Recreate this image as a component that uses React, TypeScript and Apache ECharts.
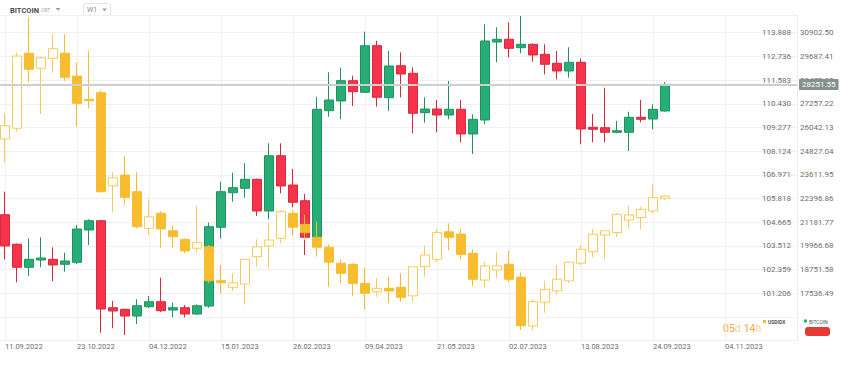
import React, { useEffect, useRef } from 'react';
import * as echarts from 'echarts';

// Date labels on the time axis (one every 6 weeks)
const xTickLabels = [
  '11.09.2022', '23.10.2022', '04.12.2022', '15.01.2023', '26.02.2023', '09.04.2023',
  '21.05.2023', '02.07.2023', '13.08.2023', '24.09.2023', '04.11.2023',
];

// Right-hand axis tick labels
const usdTickLabels = [
  '101.206', '102.359', '103.512', '104.665', '105.818', '106.971',
  '108.124', '109.277', '110.430', '111.583', '112.736', '113.888',
];
const btcTickLabels = [
  '17536.49', '18751.58', '19966.68', '21181.77', '22396.86', '23611.95',
  '24827.04', '26042.13', '27257.22', '28472.32', '29687.41', '30902.50',
];

// Weekly candles: [open, close, low, high]
const usdidx: number[][] = [
  [108.72, 109.36, 107.61, 109.97], [109.24, 112.75, 109.07, 112.91], [112.89, 112.11, 111.47, 114.64],
  [112.16, 112.67, 109.93, 112.72], [112.64, 113.11, 111.94, 113.81], [112.89, 111.72, 111.55, 113.81],
  [111.78, 110.45, 109.31, 112.43], [110.65, 110.58, 110.21, 113.0], [110.97, 106.15, 106.11, 111.1],
  [106.44, 106.83, 105.15, 107.1], [106.96, 105.88, 105.5, 107.89], [106.15, 104.45, 104.37, 107.1],
  [104.37, 104.93, 104.04, 105.78], [105.1, 104.34, 103.4, 105.21], [104.25, 103.96, 103.4, 104.53],
  [103.83, 103.27, 103.15, 103.88], [103.4, 103.67, 103.2, 105.42], [103.47, 101.82, 101.71, 103.56],
  [101.82, 101.72, 101.21, 102.58], [101.48, 101.72, 101.32, 102.18], [101.66, 102.86, 100.67, 102.86],
  [102.99, 103.47, 102.5, 103.83], [103.51, 103.8, 102.42, 104.61], [103.88, 105.18, 103.64, 105.26],
  [105.1, 104.42, 104.01, 105.26], [104.56, 104.16, 103.8, 105.02], [103.93, 103.45, 102.99, 104.69],
  [103.45, 102.72, 101.53, 103.59], [102.67, 102.18, 101.69, 102.86], [102.62, 101.69, 101.08, 102.67],
  [101.69, 101.21, 100.44, 102.45], [101.28, 101.45, 101.04, 101.94], [101.45, 101.32, 100.72, 102.01],
  [101.5, 101.01, 100.8, 102.18], [101.08, 102.5, 100.8, 102.5], [102.5, 103.07, 102.01, 103.51],
  [102.86, 104.16, 102.73, 104.32], [104.2, 103.93, 103.31, 104.61], [104.09, 103.1, 102.86, 104.34],
  [103.15, 101.89, 101.56, 103.35], [101.85, 102.54, 101.48, 102.74], [102.34, 102.55, 101.94, 103.2],
  [102.62, 101.89, 101.76, 103.28], [101.99, 99.63, 99.42, 102.21], [99.62, 100.8, 99.42, 100.91],
  [100.77, 101.4, 100.26, 101.82], [101.32, 101.89, 101.17, 102.58], [101.81, 102.72, 101.71, 102.74],
  [102.67, 103.35, 102.58, 103.56], [103.23, 104.08, 102.96, 104.34], [104.04, 104.25, 102.86, 104.29],
  [104.16, 105.05, 103.96, 105.1], [104.77, 105.02, 104.37, 105.42], [104.89, 105.29, 104.32, 105.42],
  [105.21, 105.86, 105.11, 106.53], [105.83, 105.94, 105.75, 105.99],
];

const bitcoin: number[][] = [
  [21568, 19962, 19280, 22748], [20050, 18870, 18101, 20100], [18870, 19280, 18424, 20358],
  [19245, 19347, 18870, 20409], [19280, 18988, 18167, 19896], [19024, 19193, 18644, 19619],
  [19126, 20834, 19039, 21040], [20783, 21260, 20014, 21332], [21260, 16731, 15516, 21300],
  [16798, 16629, 15741, 17142], [16716, 16372, 15398, 16731], [16372, 16900, 15962, 17229],
  [16849, 17106, 16783, 17398], [17106, 16644, 16577, 18337], [16680, 16798, 16306, 17054],
  [16798, 16475, 16306, 16936], [16475, 16900, 16440, 16972], [16885, 20952, 16800, 21158],
  [20922, 22748, 20358, 23261], [22696, 22953, 22235, 23722], [22922, 23384, 22440, 24204],
  [23384, 21758, 21501, 23420], [21758, 24594, 21332, 25230], [24594, 23040, 22665, 25230],
  [23091, 22204, 21947, 23912], [22286, 20409, 19501, 22630], [20409, 26974, 20300, 27620],
  [26902, 27451, 26594, 28872], [27400, 28441, 26461, 29108], [28441, 27877, 27143, 28697],
  [27846, 30236, 27810, 30954], [30236, 27589, 27107, 30492], [27569, 29195, 26902, 29964],
  [29210, 28784, 27589, 29897], [28820, 26769, 25743, 29128], [26799, 26989, 26287, 27589],
  [26989, 26682, 25794, 27451], [26682, 26974, 26461, 28425], [26974, 25707, 25281, 27451],
  [25707, 26461, 24681, 26717], [26425, 30477, 26205, 31334], [30426, 30564, 29385, 31180],
  [30564, 30103, 29641, 31436], [30133, 30308, 29846, 31759], [30308, 29759, 29415, 30359],
  [29795, 29282, 28769, 30308], [29333, 28938, 28513, 29964], [28938, 29385, 28595, 30154],
  [29385, 25964, 25179, 29590], [26051, 25948, 25281, 26733], [26030, 25794, 25281, 28082],
  [25794, 25876, 25750, 26374], [25794, 26564, 24835, 26851], [26564, 26461, 26307, 27451],
  [26476, 26974, 25948, 27230], [26887, 28251.55, 26850, 28359],
];

const lastPrice = bitcoin[bitcoin.length - 1][1];

// weekly categories (one leading empty week, trailing empty weeks to the axis)
const totalWeeks = 68;
const weekDates: string[] = Array.from({ length: totalWeeks }, (_, i) => {
  const d = new Date(Date.UTC(2022, 8, 4 + 7 * i));
  const dd = String(d.getUTCDate()).padStart(2, '0');
  const mm = String(d.getUTCMonth() + 1).padStart(2, '0');
  return `${dd}.${mm}.${d.getUTCFullYear()}`;
});

const usdLo = parseFloat(usdTickLabels[0]);
const usdHi = parseFloat(usdTickLabels[usdTickLabels.length - 1]);
const usdStep = (usdHi - usdLo) / (usdTickLabels.length - 1);
const btcLo = parseFloat(btcTickLabels[0]);
const btcHi = parseFloat(btcTickLabels[btcTickLabels.length - 1]);
const btcStep = (btcHi - btcLo) / (btcTickLabels.length - 1);

const usdMin = usdLo - 2 * usdStep;
const usdMax = usdHi + 0.747 * usdStep;
const btcMin = btcLo - 2 * btcStep;
const btcMax = btcHi + 0.747 * btcStep;

function nearestLabel(labels: string[], v: number, step: number): string {
  for (const l of labels) {
    if (Math.abs(parseFloat(l) - v) < step * 0.3) return l;
  }
  return '';
}

const FONT = 'Roboto, "Noto Sans", sans-serif';

export default function App() {
  const ref = useRef<HTMLDivElement>(null);
  useEffect(() => {
    document.body.style.margin = '0';
    const chart = echarts.init(ref.current as HTMLDivElement, null, { renderer: 'svg' });
    const option: any = {
      animation: false,
      textStyle: { fontFamily: FONT },
      grid: { left: -7, right: 50, top: 15, bottom: 27.3, containLabel: false, outerBoundsMode: 'none' },
      xAxis: {
        type: 'category',
        data: weekDates,
        boundaryGap: false,
        axisLine: { show: false },
        axisTick: { show: false },
        axisLabel: {
          interval: (i: number) => i >= 1 && (i - 1) % 6 === 0,
          formatter: (_v: string, i: number) => xTickLabels[(i - 1) / 6] ?? '',
          align: 'left',
          color: '#6d6d6d',
          fontSize: 7.5,
          margin: 2,
          fontFamily: FONT,
        },
        splitLine: {
          show: true,
          interval: (i: number) => i >= 1 && (i - 1) % 6 === 0,
          lineStyle: { color: '#f0f0f0', width: 1 },
        },
      },
      yAxis: [
        {
          type: 'value',
          position: 'right',
          offset: -37,
          min: usdMin,
          max: usdMax,
          interval: usdStep,
          axisLine: { show: false },
          axisTick: { show: false },
          axisLabel: {
            margin: 2,
            fontSize: 8,
            color: '#6d6d6d',
            fontFamily: FONT,
            formatter: (v: number) => nearestLabel(usdTickLabels, v, usdStep),
          },
          splitLine: { show: true, lineStyle: { color: '#f0f0f0', width: 1 } },
        },
        {
          type: 'value',
          position: 'right',
          offset: 0,
          min: btcMin,
          max: btcMax,
          interval: btcStep,
          axisLine: { show: true, lineStyle: { color: '#ececec', width: 1 } },
          axisTick: { show: false },
          axisLabel: {
            margin: 3,
            fontSize: 8,
            color: '#6d6d6d',
            fontFamily: FONT,
            formatter: (v: number) => nearestLabel(btcTickLabels, v, btcStep),
          },
          splitLine: { show: false },
        },
      ],
      series: [
        {
          name: 'BITCOIN',
          type: 'candlestick',
          yAxisIndex: 1,
          barWidth: 9,
          data: bitcoin.map((d, i) => [i + 1, d[0], d[1], d[2], d[3]]),
          encode: { x: 0, y: [1, 2, 3, 4] },
          itemStyle: {
            color: '#27ae76',
            color0: '#f7334b',
            borderColor: '#1f935f',
            borderColor0: '#d42a3f',
            borderWidth: 1,
          },
          markLine: {
            silent: true,
            symbol: ['none', 'none'],
            lineStyle: { color: '#c9d0cf', width: 2, type: 'solid' },
            label: {
              show: true,
              position: 'end',
              distance: 2,
              formatter: () => lastPrice.toFixed(2),
              backgroundColor: '#86908f',
              color: '#ffffff',
              fontSize: 8,
              padding: [2, 3, 1, 3],
              borderRadius: 1,
              fontFamily: FONT,
            },
            data: [{ yAxis: lastPrice }],
          },
        },
        {
          name: 'USDIDX',
          type: 'candlestick',
          yAxisIndex: 0,
          barWidth: 9,
          data: usdidx.map((d, i) => [i + 1, d[0], d[1], d[2], d[3]]),
          encode: { x: 0, y: [1, 2, 3, 4] },
          itemStyle: {
            color: '#ffffff',
            color0: '#f7bd2e',
            borderColor: '#f8cb58',
            borderColor0: '#f7bd2e',
            borderWidth: 1,
          },
        },
      ],
      graphic: [
        { type: 'text', x: 10, y: 6, style: { text: 'BITCOIN', fontSize: 7.5, fontWeight: 'bold', fill: '#4a4a4a', fontFamily: FONT } },
        { type: 'text', x: 41, y: 7.5, style: { text: 'CRT', fontSize: 5, fill: '#a0a0a0', fontFamily: FONT } },
        { type: 'polygon', shape: { points: [[55.5, 8], [60.5, 8], [58, 10.8]] }, style: { fill: '#9a9a9a' } },
        { type: 'rect', shape: { x: 83.5, y: 3.5, width: 27, height: 12, r: 2 }, style: { fill: '#ffffff', stroke: '#e3e3e3', lineWidth: 1 } },
        { type: 'text', x: 87, y: 6, style: { text: 'W1', fontSize: 7, fill: '#8a8a8a', fontFamily: FONT } },
        { type: 'polygon', shape: { points: [[102, 8.5], [107, 8.5], [104.5, 11.3]] }, style: { fill: '#9a9a9a' } },
        {
          type: 'text', x: 723, y: 322,
          style: {
            text: '{a|05}{b|d} {a|14}{b|h}',
            fontFamily: FONT,
            rich: {
              a: { fill: '#f5a93c', fontSize: 10.5, fontFamily: FONT },
              b: { fill: '#f6cfa0', fontSize: 10.5, fontFamily: FONT },
            },
          },
        },
        { type: 'rect', shape: { x: 763, y: 320, width: 3, height: 3 }, style: { fill: '#f5b82e' } },
        { type: 'text', x: 768, y: 319, style: { text: 'USDIDX', fontSize: 5, fontWeight: 'bold', fill: '#555555', fontFamily: FONT } },
        { type: 'rect', shape: { x: 804, y: 319.5, width: 3, height: 3 }, style: { fill: '#27ae76' } },
        { type: 'text', x: 809, y: 319, style: { text: 'BITCOIN', fontSize: 5, fill: '#555555', fontFamily: FONT } },
        { type: 'rect', shape: { x: 805, y: 327, width: 25, height: 9, r: 3 }, style: { fill: '#e53935' } },
      ],
    };
    chart.setOption(option);
    return () => chart.dispose();
  }, []);
  return <div ref={ref} style={{ width: 847, height: 368 }} />;
}
